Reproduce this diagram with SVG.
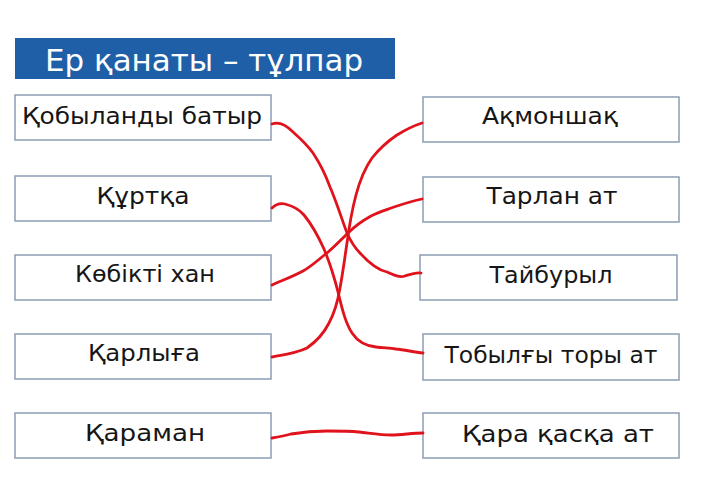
<svg xmlns="http://www.w3.org/2000/svg" width="714" height="494" viewBox="0 0 714 494">
<style>
.box{fill:#fff;stroke:#8c9db5;stroke-width:1.5}
.t{font-family:"DejaVu Sans","Liberation Sans",sans-serif;font-size:23.5px;fill:#161616;text-anchor:middle}
.ln{fill:none;stroke:#e0121c;stroke-width:2.8;stroke-linecap:round;stroke-linejoin:round}
</style>
<rect width="714" height="494" fill="#fff"/>
<g id="title">
<rect x="15" y="38" width="380" height="41" fill="#1f5fa8"/>
<text x="204" y="71" font-family="'DejaVu Sans','Liberation Sans',sans-serif" font-size="30" fill="#fff" text-anchor="middle" textLength="318" lengthAdjust="spacingAndGlyphs">Ер қанаты – тұлпар</text>
</g>
<g id="n-kobylandy"><rect class="box" x="15" y="95" width="256" height="45"/><text class="t" x="142" y="124" textLength="240" lengthAdjust="spacingAndGlyphs">Қобыланды батыр</text></g>
<g id="n-kurtka"><rect class="box" x="15" y="176" width="256" height="45"/><text class="t" x="143" y="204" textLength="93" lengthAdjust="spacingAndGlyphs">Құртқа</text></g>
<g id="n-kobikti"><rect class="box" x="15" y="255" width="256" height="45"/><text class="t" x="145" y="282" textLength="140" lengthAdjust="spacingAndGlyphs">Көбікті хан</text></g>
<g id="n-karlyga"><rect class="box" x="15" y="334" width="256" height="45"/><text class="t" x="144" y="361" textLength="112" lengthAdjust="spacingAndGlyphs">Қарлыға</text></g>
<g id="n-karaman"><rect class="box" x="15" y="413" width="256" height="45"/><text class="t" x="145" y="441" textLength="120" lengthAdjust="spacingAndGlyphs">Қараман</text></g>
<g id="n-akmonshak"><rect class="box" x="423" y="97" width="256" height="45"/><text class="t" x="550" y="124" textLength="136" lengthAdjust="spacingAndGlyphs">Ақмоншақ</text></g>
<g id="n-tarlan"><rect class="box" x="423" y="177" width="256" height="45"/><text class="t" x="552" y="204" textLength="131" lengthAdjust="spacingAndGlyphs">Тарлан ат</text></g>
<g id="n-taiburyl"><rect class="box" x="420" y="255" width="257" height="45"/><text class="t" x="551" y="283" textLength="123" lengthAdjust="spacingAndGlyphs">Тайбурыл</text></g>
<g id="n-tobylgy"><rect class="box" x="423" y="334" width="256" height="46"/><text class="t" x="551" y="363" textLength="213" lengthAdjust="spacingAndGlyphs">Тобылғы торы ат</text></g>
<g id="n-karakaska"><rect class="box" x="423" y="413" width="256" height="45"/><text class="t" x="558" y="442" textLength="192" lengthAdjust="spacingAndGlyphs">Қара қасқа ат</text></g>
<g id="connectors">
<path class="ln" d="M272,124 C280,121 287,126 293,132 C302,140 308,146 313,153 C321,165 326,176 330,187 C337,203 342,220 347,233 C351,242 355,248 360,253 C368,262 378,270 387,272 C394,275 399,278 405,276 C411,274 416,272 421,273"/>
<path class="ln" d="M272,208 C276,204 280,203 285,204 C293,206 299,209 304,215 C313,226 319,238 324,249 C329,261 334,276 338,292 C342,308 345,322 352,333 C358,342 366,346 376,347 C384,348 389,348 396,349 C405,350 414,352 423,353"/>
<path class="ln" d="M272,285 C283,280 294,276 303,271 C312,266 319,259 327,253 C334,247 341,240 348,233 C355,226 362,221 371,216 C379,212 386,210 394,207 C403,204 412,201 422,199"/>
<path class="ln" d="M272,357 C283,355 297,353 307,348 C317,341 324,333 329,323 C335,312 338,300 340,288 C343,272 345,256 347,243 C349,228 352,210 356,195 C360,180 365,168 372,158 C380,148 388,141 397,135 C405,130 413,126 422,123"/>
<path class="ln" d="M272,438 C278,437 284,436 291,434 C303,432 315,431 327,431 C338,431 349,431 359,432 C369,433 380,435 391,435 C402,435 412,433 423,433"/>
</g>
</svg>
